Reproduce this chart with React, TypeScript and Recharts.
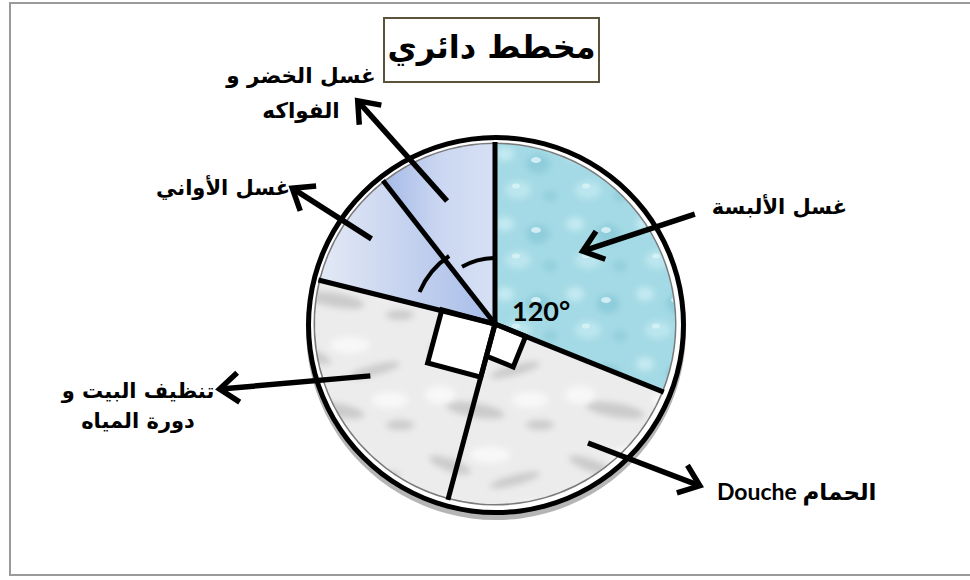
import React from 'react';
import { PieChart, Pie, Cell } from 'recharts';

// slices, clockwise from 12 o'clock (angles as drawn, in degrees)
const categories = ['غسل الألبسة', 'الحمام Douche', 'تنظيف البيت و دورة المياه', 'غسل الأواني', 'غسل الخضر و الفواكه'];
const degrees = [112, 83, 89, 38, 38];
const labelLines = [['غسل الألبسة'], ['Douche الحمام'], ['تنظيف البيت و', 'دورة المياه'], ['غسل الأواني'], ['غسل الخضر و', 'الفواكه']];
const angleText = '120°';
const title = 'مخطط دائري';

const data = categories.map((name, i) => ({ name, value: degrees[i] }));
const one = [{ value: 1 }];

const fills = ['url(#water)', 'url(#marble)', 'url(#marble)', 'url(#dishGrad)', 'url(#vegGrad)'];

// arrow layout: [angle offset from mid angle, radius]; arrow head at `to`
const layout = [
  { from: [-5.2, 228], to: [5.7, 114], text: [352, -110], anchor: 'end', gap: 0, size: 21 },
  { from: [11.5, 151], to: [25.2, 261], text: [222, 176], anchor: 'start', gap: 0, size: 23 },
  { from: [-7.9, 135], to: [-17.2, 283], text: [-357, 74], anchor: 'middle', gap: 30, size: 21 },
  { from: [-1.6, 150], to: [-0.8, 244], text: [-272, -129], anchor: 'middle', gap: 0, size: 21 },
  { from: [2.3, 132], to: [12.6, 262], text: [-194, -241], anchor: 'middle', gap: 35, size: 21.5 },
];
const squareSide: Record<number, number> = { 1: 33, 2: 55 };
// angle marks: radius, offset from end angle, offset from start angle
const arcMarks: Record<number, { r: number; e: number; s: number }> = {
  3: { r: 82, e: -4, s: -9 },
  4: { r: 66, e: 1, s: -8 },
};

const RAD = Math.PI / 180;
const polar = (cx: number, cy: number, r: number, a: number) => ({
  x: cx + r * Math.cos(-a * RAD),
  y: cy + r * Math.sin(-a * RAD),
});

const arabicFont = '"DejaVu Sans", sans-serif';

const Arrow = ({ x1, y1, x2, y2 }: { x1: number; y1: number; x2: number; y2: number }) => {
  const len = Math.hypot(x2 - x1, y2 - y1);
  const ux = (x2 - x1) / len;
  const uy = (y2 - y1) / len;
  const wing = 24;
  const rot = (s: number) => {
    const c = Math.cos(s * 38 * RAD);
    const n = Math.sin(s * 38 * RAD);
    return { x: x2 - wing * (ux * c - uy * n), y: y2 - wing * (ux * n + uy * c) };
  };
  const w1 = rot(1);
  const w2 = rot(-1);
  return (
    <g stroke="#000" strokeWidth={5.5} fill="none">
      <line x1={x1} y1={y1} x2={x2 - ux * 4} y2={y2 - uy * 4} />
      <polyline points={`${w1.x},${w1.y} ${x2},${y2} ${w2.x},${w2.y}`} strokeLinejoin="miter" />
    </g>
  );
};

const renderLabel = (props: any) => {
  const { cx, cy, midAngle, startAngle, endAngle, outerRadius, index } = props;
  const lay = layout[index];
  const a = polar(cx, cy, lay.from[1], midAngle + lay.from[0]);
  const b = polar(cx, cy, lay.to[1], midAngle + lay.to[0]);
  const lineEnd = polar(cx, cy, outerRadius + 2, startAngle);
  const side = squareSide[index];
  let square = null;
  if (side) {
    const p1 = polar(cx, cy, side, startAngle);
    const u2 = polar(0, 0, side, startAngle - 90);
    square = (
      <polygon
        points={`${cx},${cy} ${p1.x},${p1.y} ${p1.x + u2.x},${p1.y + u2.y} ${cx + u2.x},${cy + u2.y}`}
        fill="#fff"
        stroke="#000"
        strokeWidth={5}
      />
    );
  }
  const mark = arcMarks[index];
  let arc = null;
  if (mark) {
    const s = polar(cx, cy, mark.r, endAngle + mark.e);
    const e = polar(cx, cy, mark.r, startAngle + mark.s);
    arc = <path d={`M${s.x},${s.y} A${mark.r},${mark.r} 0 0 0 ${e.x},${e.y}`} fill="none" stroke="#000" strokeWidth={4} />;
  }
  const lines = labelLines[index];
  return (
    <g key={`lab-${index}`}>
      {square}
      <line x1={cx} y1={cy} x2={lineEnd.x} y2={lineEnd.y} stroke="#000" strokeWidth={5} />
      {arc}
      <Arrow x1={a.x} y1={a.y} x2={b.x} y2={b.y} />
      {lines.map((t, k) => (
        <text
          key={k}
          x={cx + lay.text[0]}
          y={cy + lay.text[1] + k * lay.gap}
          textAnchor={lay.anchor}
          fontFamily={index === 1 ? 'Lato, "DejaVu Sans", sans-serif' : arabicFont}
          fontWeight="bold"
          fontSize={lay.size}
          fill="#000"
          stroke="none"
        >
          {t}
        </text>
      ))}
      {index === 0 && (
        <text x={cx + 17} y={cy - 3} fontFamily="Lato, sans-serif" fontWeight="bold" fontSize={27} fill="#000" stroke="none">
          {angleText}
        </text>
      )}
    </g>
  );
};

const Defs = () => (
  <svg width={0} height={0} style={{ position: 'absolute' }}>
    <defs>
      <filter id="soft" x="-30%" y="-30%" width="160%" height="160%">
        <feGaussianBlur stdDeviation="3" />
      </filter>
      <pattern id="water" patternUnits="userSpaceOnUse" width="70" height="70">
        <rect width="70" height="70" fill="#a4dae5" />
        <g filter="url(#soft)">
          <ellipse cx="15" cy="14" rx="9" ry="7" fill="#c4eaf2" />
          <ellipse cx="48" cy="24" rx="12" ry="10" fill="#8fcddb" />
          <ellipse cx="28" cy="50" rx="13" ry="9" fill="#bce6ef" />
          <ellipse cx="60" cy="56" rx="7" ry="6" fill="#93cfdc" />
        </g>
        <ellipse cx="46" cy="20" rx="5" ry="3" fill="#dff5f9" opacity="0.8" />
        <ellipse cx="26" cy="46" rx="4" ry="2.5" fill="#dff5f9" opacity="0.7" />
      </pattern>
      <pattern id="marble" patternUnits="userSpaceOnUse" width="140" height="110">
        <rect width="140" height="110" fill="#ececec" />
        <g filter="url(#soft)" fill="#cbcbcb">
          <ellipse cx="30" cy="25" rx="22" ry="6" transform="rotate(20 30 25)" />
          <ellipse cx="95" cy="40" rx="26" ry="5" transform="rotate(-15 95 40)" />
          <ellipse cx="55" cy="80" rx="30" ry="7" transform="rotate(10 55 80)" />
          <ellipse cx="120" cy="95" rx="14" ry="5" />
        </g>
        <g filter="url(#soft)" fill="#f8f8f8">
          <ellipse cx="70" cy="15" rx="20" ry="8" />
          <ellipse cx="20" cy="65" rx="15" ry="9" />
          <ellipse cx="110" cy="70" rx="18" ry="8" />
        </g>
      </pattern>
      <linearGradient id="dishGrad" x1="0" y1="0" x2="1" y2="0">
        <stop offset="0" stopColor="#e3e9f6" />
        <stop offset="1" stopColor="#a7bce8" />
      </linearGradient>
      <linearGradient id="vegGrad" x1="0" y1="0" x2="1" y2="0">
        <stop offset="0" stopColor="#a6bbe8" />
        <stop offset="0.5" stopColor="#cbd7f1" />
        <stop offset="1" stopColor="#d7e0f4" />
      </linearGradient>
    </defs>
  </svg>
);

const App = () => {
  return (
    <div style={{ position: 'absolute', left: 0, top: 0, width: 970, height: 580, background: '#fff' }}>
      <Defs />
      <div style={{ position: 'absolute', left: 9, top: 2, width: 980, height: 574, border: '2px solid #9a9a9a', boxSizing: 'border-box' }} />
      <div
        style={{
          position: 'absolute',
          left: 383,
          top: 17,
          width: 217,
          height: 66,
          border: '2px solid #5b523b',
          boxSizing: 'border-box',
          textAlign: 'center',
          fontFamily: arabicFont,
          fontWeight: 'bold',
          fontSize: 32,
          lineHeight: '56px',
          whiteSpace: 'nowrap',
          direction: 'rtl',
        }}
      >
        {title}
      </div>
      <div style={{ position: 'absolute', left: 0, top: 0 }}>
        <PieChart width={970} height={580}>
          <Pie data={one} dataKey="value" cx={491} cy={325} outerRadius={190} fill="#b5b5b5" stroke="none" isAnimationActive={false} />
          <Pie data={one} dataKey="value" cx={491} cy={320} outerRadius={187} fill="#fff" stroke="none" isAnimationActive={false} />
          <Pie data={one} dataKey="value" cx={491} cy={320} innerRadius={185} outerRadius={190} fill="#000" stroke="none" isAnimationActive={false} />
          <Pie data={one} dataKey="value" cx={490} cy={319} innerRadius={179} outerRadius={181.5} fill="#7a7a7a" stroke="none" isAnimationActive={false} />
          <Pie
            data={data}
            dataKey="value"
            nameKey="name"
            cx={490}
            cy={319}
            outerRadius={180}
            startAngle={90}
            endAngle={-270}
            stroke="none"
            label={renderLabel}
            labelLine={false}
            isAnimationActive={false}
          >
            {data.map((d, i) => (
              <Cell key={d.name} fill={fills[i]} />
            ))}
          </Pie>
        </PieChart>
      </div>
    </div>
  );
};

export default App;
